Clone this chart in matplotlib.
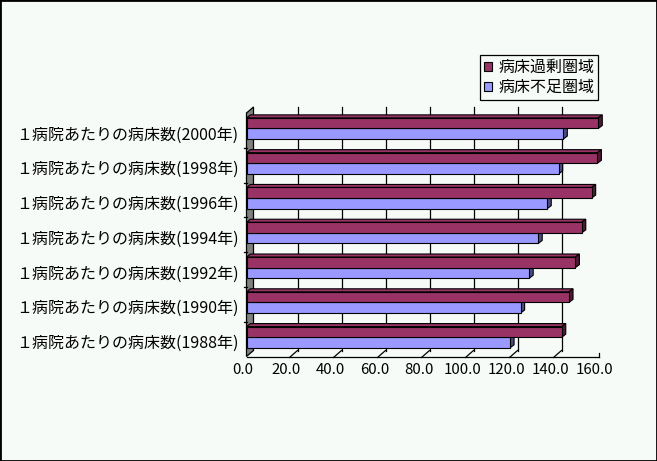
import matplotlib
matplotlib.use("Agg")
import matplotlib.pyplot as plt
from matplotlib.patches import Polygon, Rectangle, Patch

plt.rcParams['font.family'] = ['Noto Sans CJK JP', 'DejaVu Sans']

years = ['2000', '1998', '1996', '1994', '1992', '1990', '1988']
labels = [f'１病院あたりの病床数({y}年)' for y in years]
excess = [159.9, 159.5, 156.9, 152.4, 149.5, 146.6, 143.3]     # 病床過剰圏域
shortage = [144.0, 141.9, 136.7, 132.6, 128.5, 124.6, 119.8]   # 病床不足圏域
xticks = [0, 20, 40, 60, 80, 100, 120, 140, 160]

BG = '#F7FBF7'
RED, RED_SIDE = '#993366', '#4D1A33'
BLUE, BLUE_SIDE = '#9999FF', '#4D4D80'

W, H = 657, 461
fig = plt.figure(figsize=(W / 100, H / 100), dpi=100, facecolor=BG)

# front plane of the 3D box, in pixels
x0, x1 = 246.5, 598.5
ytop, ybot = 113.0, 356.5
ax = fig.add_axes([x0 / W, 1 - ybot / H, (x1 - x0) / W, (ybot - ytop) / H])
ax.set_xlim(0, 160)
ax.set_ylim(len(years), 0)
ax.axis('off')

# pixel -> data factors
px = 160 / (x1 - x0)
py = len(years) / (ybot - ytop)
n = len(years)

# wall depth and bar depth (pixels)
wx, wy = 7 * px, 6 * py
bx, by = 4 * px, 3 * py

# back wall gridlines
for v in xticks[1:-1]:
    ax.plot([v + wx, v + wx], [-wy, n - wy], color='black', lw=0.9,
            zorder=1, clip_on=False)
    # floor depth ticks
    ax.plot([v + wx, v - 1 * px], [n - wy, n + 1 * py], color='black',
            lw=0.9, zorder=1, clip_on=False)

# left side wall
ax.add_patch(Polygon([(0, 0), (wx, -wy), (wx, n - wy), (0, n)], closed=True,
                     fc='#808080', ec='black', lw=0.9, zorder=2,
                     clip_on=False))
# category ticks on the wall edge
for i in range(1, n):
    ax.plot([-3 * px, 0], [i, i], color='black', lw=0.9, clip_on=False)

# floor front edge
ax.plot([0, 160], [n, n], color='black', lw=0.9, clip_on=False, zorder=2)
ax.plot([160, 160], [n, n - 4 * py], color='black', lw=0.9,
        clip_on=False, zorder=2)


def bar3d(y0, h, v, fc, side):
    y1 = y0 + h
    ax.add_patch(Polygon([(0, y0), (v, y0), (v + bx, y0 - by), (bx, y0 - by)],
                         closed=True, fc=fc, ec='black', lw=0.8, zorder=3,
                         clip_on=False))
    ax.add_patch(Polygon([(v, y0), (v, y1), (v + bx, y1 - by), (v + bx, y0 - by)],
                         closed=True, fc=side, ec='black', lw=0.8, zorder=3,
                         clip_on=False))
    ax.add_patch(Rectangle((0, y0), v, h, fc=fc, ec='black', lw=0.8,
                           zorder=4, clip_on=False))


bh = 0.305
for i in range(n):
    bar3d(i + 0.445, bh, shortage[i], BLUE, BLUE_SIDE)
    bar3d(i + 0.14, bh, excess[i], RED, RED_SIDE)

# category labels
for i, lab in enumerate(labels):
    ax.annotate(lab, xy=(0, i + 0.5), xytext=(-8, -4.5),
                textcoords='offset pixels', ha='right', va='center',
                fontsize=11.5, color='black', annotation_clip=False)

# value tick labels
for v in xticks:
    ax.annotate(f'{v:.1f}', xy=(v, n), xytext=(-4, -13),
                textcoords='offset pixels', ha='center', va='center',
                fontsize=10.8, color='black', annotation_clip=False)

# legend
handles = [Patch(fc=RED, ec='black', lw=0.8, label='病床過剰圏域'),
           Patch(fc=BLUE, ec='black', lw=0.8, label='病床不足圏域')]
leg = fig.legend(handles=handles, loc='upper left',
                 bbox_to_anchor=(480 / W, 1 - 55 / H), borderaxespad=0,
                 fontsize=11.5, handlelength=0.5, handleheight=0.5,
                 handletextpad=0.4, labelspacing=0.2, borderpad=0.25,
                 fancybox=False, framealpha=1)
leg.get_frame().set_edgecolor('black')
leg.get_frame().set_linewidth(0.9)
leg.get_frame().set_facecolor(BG)

# outer border
fig.patches.append(Rectangle((0, 0), 1, 1, transform=fig.transFigure,
                             fill=False, ec='black', lw=2.0))

fig.savefig('out.png', dpi=100, facecolor=BG)
